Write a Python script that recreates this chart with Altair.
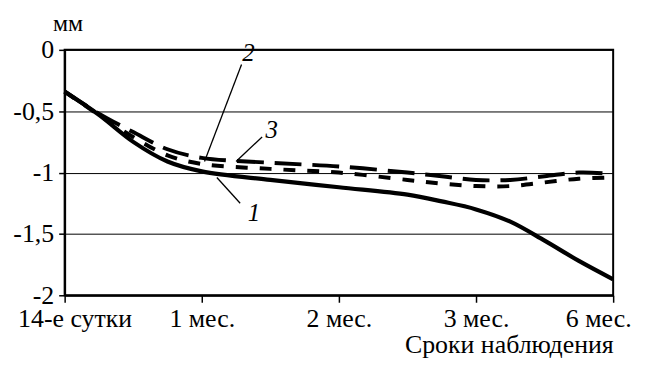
import altair as alt
import pandas as pd

# x positions (0 = 14-е сутки, 1 = 1 мес., 2 = 2 мес., 3 = 3 мес., 4 = 6 мес.)
x_pos = [0, 0.25, 0.5, 0.75, 1, 1.5, 2, 2.5, 2.75, 3, 3.25, 3.5, 3.75, 4]
s1 = [-0.34, -0.53, -0.75, -0.91, -0.99, -1.06, -1.12, -1.18, -1.235, -1.30, -1.40, -1.555, -1.72, -1.87]
s2 = [-0.34, -0.53, -0.71, -0.86, -0.93, -0.97, -1.00, -1.06, -1.09, -1.11, -1.11, -1.08, -1.05, -1.04]
s3 = [-0.34, -0.52, -0.67, -0.81, -0.88, -0.92, -0.95, -1.00, -1.03, -1.06, -1.06, -1.03, -1.00, -1.01]

x_ticks = [0, 1, 2, 3, 4]
x_labels = ["14-е сутки", "1 мес.", "2 мес.", "3 мес.", "6 мес."]
y_ticks = [0, -0.5, -1, -1.5, -2]

# annotation labels and leader lines (data units)
ann_text = ["2", "3", "1"]
ann_x = [1.34, 1.51, 1.38]
ann_y = [-0.03, -0.65, -1.33]
lead_x = [1.29, 1.44, 1.11]
lead_y = [-0.12, -0.71, -1.04]
lead_x2 = [1.02, 1.25, 1.28]
lead_y2 = [-0.91, -0.91, -1.25]

FONT = "Liberation Serif"

df = pd.DataFrame({
    "x": x_pos * 3,
    "y": s1 + s2 + s3,
    "s": ["1"] * len(x_pos) + ["2"] * len(x_pos) + ["3"] * len(x_pos),
})

label_expr = "[" + ",".join("'" + l + "'" for l in x_labels) + "][round(datum.value)]"

xs = alt.Scale(domain=[0, 4], nice=False, zero=False)
ys = alt.Scale(domain=[-2, 0], nice=False, zero=False)

x_axis = alt.Axis(values=x_ticks, labelExpr=label_expr, grid=False, title="Сроки наблюдения",
                  titleAnchor="end", titleFont=FONT, titleFontSize=26, titleFontWeight="normal",
                  titlePadding=1, labelFont=FONT, labelFontSize=26, labelPadding=3, tickSize=7,
                  labelFlush=False, labelOverlap=False,
                  labelOffset={"condition": [{"test": "datum.value == 0", "value": 10},
                                             {"test": "datum.value == 4", "value": -15}],
                               "value": 0})
y_axis = alt.Axis(values=y_ticks, labelExpr="replace(toString(datum.value), '.', ',')",
                  grid=True, title="мм", titleAngle=0, titleX=3, titleY=-19, titleAlign="center",
                  titleBaseline="alphabetic", titleFont=FONT, titleFontSize=24,
                  titleFontWeight="normal", labelFont=FONT, labelFontSize=26, labelPadding=5,
                  tickSize=6)

base = alt.Chart(df).encode(
    x=alt.X("x:Q", scale=xs, axis=x_axis),
    y=alt.Y("y:Q", scale=ys, axis=y_axis),
)

l1 = base.transform_filter("datum.s == '1'").mark_line(
    color="black", strokeWidth=4.2, interpolate="catmull-rom")
l2 = base.transform_filter("datum.s == '2'").mark_line(
    color="black", strokeWidth=4, interpolate="catmull-rom", strokeDash=[12, 12])
l3 = base.transform_filter("datum.s == '3'").mark_line(
    color="black", strokeWidth=4, interpolate="catmull-rom", strokeDash=[27, 11])

ann = pd.DataFrame({"t": ann_text, "x": ann_x, "y": ann_y,
                    "lx": lead_x, "ly": lead_y, "lx2": lead_x2, "ly2": lead_y2})

leaders = alt.Chart(ann).mark_rule(color="black", strokeWidth=1.3).encode(
    x=alt.X("lx:Q", scale=xs), y=alt.Y("ly:Q", scale=ys),
    x2="lx2:Q", y2="ly2:Q")
texts = alt.Chart(ann).mark_text(font=FONT, fontSize=25, fontStyle="italic",
                                 align="center", baseline="middle", color="black").encode(
    x=alt.X("x:Q", scale=xs), y=alt.Y("y:Q", scale=ys), text="t:N")

chart = alt.layer(l1, l2, l3, leaders, texts).properties(
    width=552, height=247,
    autosize=alt.AutoSizeParams(type="none"),
    padding={"left": 57, "top": 41, "right": 25, "bottom": 63},
).configure(
    font=FONT
).configure_view(
    stroke="black", strokeWidth=2
).configure_axis(
    domainColor="black", domainWidth=2, tickColor="black", tickWidth=1.5,
    gridColor="black", gridWidth=1, gridOpacity=1, labelColor="black", titleColor="black",
    labelFont=FONT, titleFont=FONT
).configure_text(
    font=FONT
)

chart.save("out.html", embed_options={"renderer": "svg", "actions": False})
